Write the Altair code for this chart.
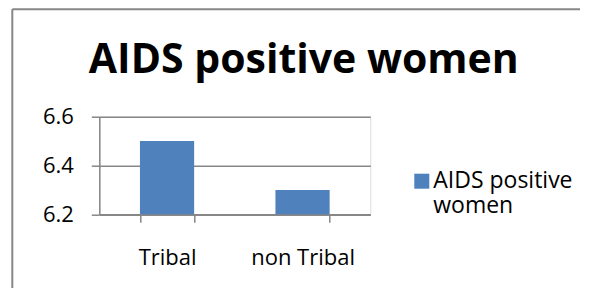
import altair as alt
import pandas as pd

categories = ["Tribal", "non Tribal"]
values = [6.5, 6.3]
series_name = "AIDS positive women"
y_ticks = [6.2, 6.4, 6.6]
title_text = "AIDS positive women"

df = pd.DataFrame({"cat": categories, "val": values, "series": [series_name] * len(categories)})
frame_df = pd.DataFrame({"k": [0]})

GRAY = "#878787"
BLUE = "#4F81BD"
FONT = "Open Sans"

bars = alt.Chart(df).mark_bar(clip=True, color=BLUE).encode(
    x=alt.X("cat:N", sort=categories, title=None,
            scale=alt.Scale(paddingInner=0.6, paddingOuter=0.3),
            axis=alt.Axis(labelAngle=0, tickBand="extent", tickSize=8, tickColor=GRAY,
                          tickWidth=1.5, domainColor=GRAY, domainWidth=1.5,
                          labelFont=FONT, labelFontSize=22, labelColor="black",
                          labelBaseline="alphabetic", labelPadding=42, grid=False)),
    y=alt.Y("val:Q", title=None,
            scale=alt.Scale(domain=[y_ticks[0], y_ticks[-1]], zero=False, nice=False),
            axis=alt.Axis(values=y_ticks, format=".1f", tickSize=8, tickColor=GRAY,
                          tickWidth=1.5, domainColor=GRAY, domainWidth=1.5,
                          gridColor=GRAY, gridWidth=1.5, grid=True,
                          labelFont=FONT, labelFontSize=22, labelColor="black",
                          labelPadding=18)),
    color=alt.Color("series:N", scale=alt.Scale(range=[BLUE]), title=None,
                    legend=alt.Legend(orient="none", legendX=311, legendY=53,
                                      padding=0, symbolType="square", symbolSize=225,
                                      symbolStrokeWidth=0, labelOffset=0,
                                      labelFont=FONT, labelFontSize=23, labelColor="black",
                                      labelExpr="[slice(datum.label, 0, 13), slice(datum.label, 14)]",
                                      labelLimit=300)),
)

border_top = alt.Chart(frame_df).mark_rule(stroke=GRAY, strokeWidth=2).encode(
    x=alt.value(-87), x2=alt.value(500), y=alt.value(-107.5)
)
border_left = alt.Chart(frame_df).mark_rule(stroke=GRAY, strokeWidth=2).encode(
    x=alt.value(-87), y=alt.value(-107.5), y2=alt.value(300)
)

chart = alt.layer(border_top, border_left, bars).properties(
    width=271, height=97.6,
    autosize=alt.AutoSizeParams(type="none"),
    padding={"left": 91.3, "top": 108.7, "right": 210, "bottom": 74},
    title=alt.TitleParams(title_text, font=FONT, fontSize=41, fontWeight="bold",
                          color="black", anchor="middle", frame="group",
                          dx=69, dy=106, baseline="alphabetic", offset=0),
).configure_view(stroke=None).configure(background="white")

chart.save("out.html", embed_options={"renderer": "svg", "actions": False})
